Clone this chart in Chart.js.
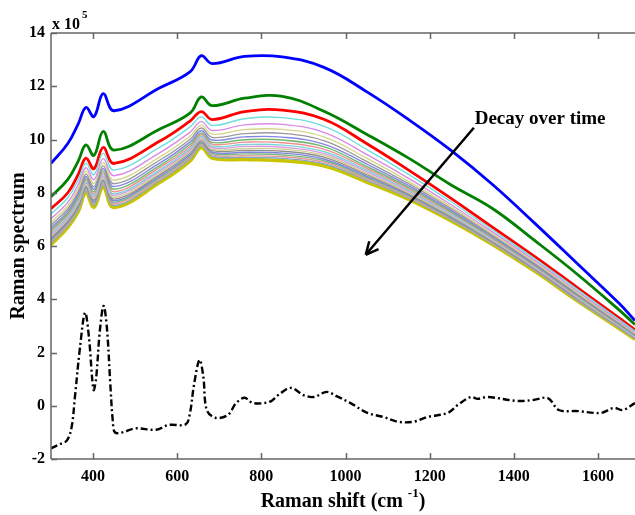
<!DOCTYPE html>
<html>
<head>
<meta charset="utf-8">
<script src="https://cdn.jsdelivr.net/npm/chart.js@4.4.1/dist/chart.umd.min.js"></script>
<style>
html, body { margin: 0; padding: 0; background: #fff; }
#wrap { width: 635px; height: 515px; }
</style>
</head>
<body>
<div id="wrap"><canvas id="ramanChart" width="635" height="515"></canvas></div>
<script>
// Raman shift grid (cm-1) shared by the decaying spectra
var shifts = [300, 340, 365, 383, 402, 424, 450, 560, 631, 657, 683, 760, 850, 950, 1050, 1150, 1250, 1350, 1450, 1550, 1650, 1688];

// spectra, in units of 1e5
var blueSpectrum   = [9.1, 9.85, 10.6, 11.2, 10.86, 11.72, 11.08, 11.95, 12.55, 13.15, 12.85, 13.12, 13.1, 12.7, 11.8, 10.75, 9.6, 8.3, 6.85, 5.35, 3.85, 3.2];
var greenSpectrum  = [7.85, 8.5, 9.2, 9.8, 9.4, 10.3, 9.6, 10.4, 11.0, 11.6, 11.27, 11.55, 11.62, 11.05, 10.2, 9.3, 8.3, 7.4, 6.2, 4.95, 3.6, 3.05];
var redSpectrum    = [7.4, 8.0, 8.7, 9.3, 8.9, 9.7, 9.1, 9.95, 10.7, 11.05, 10.75, 11.05, 11.1, 10.75, 9.85, 8.85, 7.8, 6.7, 5.6, 4.45, 3.3, 2.85];
var yellowSpectrum = [6.05, 6.7, 7.3, 8.0, 7.45, 8.2, 7.45, 8.4, 9.2, 9.7, 9.3, 9.25, 9.2, 9.0, 8.4, 7.75, 6.95, 6.05, 5.05, 3.95, 2.9, 2.5];

// thin spectra between the red and the yellow one
var midSpectra = [
  [7.2, 7.81, 8.49, 9.11, 8.68, 9.48, 8.85, 9.72, 10.48, 10.85, 10.53, 10.78, 10.82, 10.49, 9.63, 8.69, 7.67, 6.6, 5.52, 4.38, 3.24, 2.8],
  [7.02, 7.64, 8.31, 8.94, 8.49, 9.28, 8.64, 9.52, 10.28, 10.67, 10.34, 10.55, 10.57, 10.26, 9.44, 8.54, 7.56, 6.52, 5.45, 4.31, 3.19, 2.75],
  [6.89, 7.51, 8.17, 8.81, 8.35, 9.13, 8.47, 9.36, 10.13, 10.54, 10.2, 10.37, 10.38, 10.09, 9.3, 8.43, 7.48, 6.45, 5.39, 4.26, 3.15, 2.72],
  [6.78, 7.4, 8.06, 8.7, 8.23, 9.01, 8.34, 9.24, 10.01, 10.43, 10.08, 10.22, 10.23, 9.95, 9.18, 8.34, 7.41, 6.4, 5.35, 4.22, 3.12, 2.69],
  [6.68, 7.31, 7.96, 8.61, 8.13, 8.91, 8.23, 9.13, 9.91, 10.33, 9.98, 10.1, 10.09, 9.82, 9.08, 8.27, 7.35, 6.36, 5.31, 4.19, 3.09, 2.66],
  [6.6, 7.23, 7.87, 8.53, 8.04, 8.82, 8.13, 9.04, 9.82, 10.25, 9.89, 9.99, 9.98, 9.72, 8.99, 8.2, 7.3, 6.32, 5.28, 4.16, 3.06, 2.64],
  [6.54, 7.17, 7.8, 8.47, 7.97, 8.74, 8.04, 8.96, 9.74, 10.19, 9.82, 9.9, 9.88, 9.63, 8.92, 8.15, 7.26, 6.28, 5.25, 4.13, 3.04, 2.63],
  [6.47, 7.1, 7.73, 8.4, 7.9, 8.67, 7.96, 8.88, 9.67, 10.12, 9.75, 9.81, 9.79, 9.54, 8.85, 8.09, 7.21, 6.25, 5.22, 4.11, 3.02, 2.61],
  [6.41, 7.05, 7.68, 8.35, 7.84, 8.61, 7.9, 8.82, 9.61, 10.06, 9.69, 9.74, 9.71, 9.47, 8.79, 8.05, 7.18, 6.23, 5.2, 4.09, 3.01, 2.59],
  [6.36, 7.0, 7.62, 8.3, 7.78, 8.55, 7.83, 8.76, 9.55, 10.01, 9.63, 9.66, 9.64, 9.4, 8.73, 8.0, 7.15, 6.2, 5.18, 4.07, 2.99, 2.58],
  [6.31, 6.95, 7.57, 8.25, 7.73, 8.49, 7.76, 8.69, 9.49, 9.96, 9.58, 9.59, 9.56, 9.33, 8.68, 7.96, 7.11, 6.17, 5.15, 4.05, 2.98, 2.57],
  [6.25, 6.9, 7.51, 8.2, 7.67, 8.43, 7.7, 8.63, 9.43, 9.9, 9.52, 9.52, 9.49, 9.26, 8.62, 7.92, 7.08, 6.15, 5.13, 4.03, 2.96, 2.55],
  [6.21, 6.85, 7.46, 8.15, 7.62, 8.37, 7.64, 8.58, 9.37, 9.86, 9.47, 9.46, 9.42, 9.2, 8.57, 7.88, 7.05, 6.13, 5.11, 4.01, 2.95, 2.54],
  [6.16, 6.8, 7.41, 8.1, 7.57, 8.32, 7.58, 8.52, 9.32, 9.81, 9.42, 9.39, 9.35, 9.14, 8.52, 7.84, 7.02, 6.1, 5.09, 3.99, 2.93, 2.53],
  [6.11, 6.76, 7.36, 8.06, 7.52, 8.27, 7.52, 8.47, 9.27, 9.76, 9.37, 9.33, 9.29, 9.08, 8.47, 7.8, 6.99, 6.08, 5.08, 3.97, 2.92, 2.52]
];
var midColors = ['#6fdede', '#d98ae6', '#d6d68a', '#9a9a9a', '#8585e6', '#72b872', '#ef8f8f',
                 '#7ad6d6', '#dc9ae6', '#cfcf8f', '#8f8f8f', '#7f86dc', '#7fb87f', '#e69a9a', '#86a8c8'];

// difference spectrum (dash-dot, bottom)
var diffShifts = [300, 320, 338, 349, 357, 369, 381, 390, 401, 407, 416, 425, 433, 441, 447, 452, 470, 500, 550, 580, 620, 630, 640, 653, 662, 670, 690, 720, 740, 760, 780, 820, 840, 870, 900, 925, 955, 980, 1012, 1052, 1090, 1124, 1162, 1195, 1243, 1267, 1298, 1314, 1338, 1409, 1448, 1481, 1507, 1552, 1607, 1638, 1659, 1688];
var diffSpectrum = [-1.6, -1.45, -1.3, -0.8, 0.35, 2.2, 3.5, 2.6, 0.6, 1.0, 2.8, 3.75, 2.9, 0.8, -0.6, -1.0, -1.0, -0.85, -0.9, -0.72, -0.7, -0.3, 0.8, 1.72, 1.1, -0.15, -0.45, -0.35, 0.1, 0.3, 0.1, 0.15, 0.4, 0.67, 0.4, 0.33, 0.52, 0.35, 0.1, -0.27, -0.42, -0.6, -0.6, -0.42, -0.27, 0.03, 0.33, 0.26, 0.33, 0.18, 0.22, 0.29, -0.16, -0.2, -0.27, -0.08, -0.16, 0.1];

var xTicks = [400, 600, 800, 1000, 1200, 1400, 1600];
var yTicks = [-2, 0, 2, 4, 6, 8, 10, 12, 14];

// annotation arrow (data units)
var arrowFrom = [1305, 10.44];
var arrowTo = [1048, 5.67];
var arrowLabel = 'Decay over time';
var arrowLabelAt = [1307, 10.78];

var SERIF = '"Liberation Serif", "Times New Roman", serif';

function toPoints(xs, ys) {
    return xs.map(function(x, i) { return { x: x, y: ys[i] }; });
}

function lineSet(ys, color, width) {
    return {
        data: toPoints(shifts, ys),
        borderColor: color,
        borderWidth: width,
        pointRadius: 0,
        fill: false,
        tension: 0.4
    };
}

var datasets = [];
midSpectra.forEach(function(ys, i) {
    datasets.push(lineSet(ys, midColors[i % midColors.length], 1.4));
});
datasets.push(lineSet(yellowSpectrum, '#c8c400', 3.5));
datasets.push(lineSet(redSpectrum, '#ff0000', 2.8));
datasets.push(lineSet(greenSpectrum, '#007f00', 2.8));
datasets.push(lineSet(blueSpectrum, '#0000ff', 2.8));
datasets.push({
    data: toPoints(diffShifts, diffSpectrum),
    borderColor: '#000',
    borderWidth: 2.4,
    borderDash: [7, 3, 2, 3],
    pointRadius: 0,
    fill: false,
    tension: 0.35
});

// frame, inward ticks, titles and the arrow
var decor = {
    id: 'decor',
    afterDraw: function(chart) {
        var ctx = chart.ctx;
        var a = chart.chartArea;
        var xs = chart.scales.x, ys = chart.scales.y;
        ctx.save();
        ctx.strokeStyle = '#666';
        ctx.lineWidth = 1.5;
        ctx.beginPath();
        ctx.moveTo(a.left, a.top); ctx.lineTo(a.right, a.top);
        ctx.moveTo(a.left, a.top); ctx.lineTo(a.left, a.bottom);
        ctx.moveTo(a.left, a.bottom); ctx.lineTo(a.right, a.bottom);
        xTicks.forEach(function(v) {
            var px = Math.round(xs.getPixelForValue(v)) + 0.5;
            ctx.moveTo(px, a.bottom); ctx.lineTo(px, a.bottom - 6);
            ctx.moveTo(px, a.top); ctx.lineTo(px, a.top + 6);
        });
        yTicks.forEach(function(v) {
            var py = Math.round(ys.getPixelForValue(v)) + 0.5;
            ctx.moveTo(a.left, py); ctx.lineTo(a.left + 6, py);
        });
        ctx.stroke();

        ctx.fillStyle = '#000';
        // exponent label
        ctx.font = 'bold 16px ' + SERIF;
        ctx.textBaseline = 'alphabetic';
        ctx.textAlign = 'left';
        ctx.fillText('x 10', a.left + 1, a.top - 4);
        var w = ctx.measureText('x 10').width;
        ctx.font = 'bold 11px ' + SERIF;
        ctx.fillText('5', a.left + 3 + w, a.top - 15);

        // x title with superscript
        ctx.font = 'bold 20px ' + SERIF;
        var t1 = 'Raman shift (cm ';
        var w1 = ctx.measureText(t1).width;
        ctx.font = 'bold 13px ' + SERIF;
        var w2 = ctx.measureText('-1').width;
        ctx.font = 'bold 20px ' + SERIF;
        var w3 = ctx.measureText(')').width;
        var cx = (a.left + a.right) / 2;
        var sx = cx - (w1 + w2 + w3) / 2;
        var base = 507;
        ctx.fillText(t1, sx, base);
        ctx.fillText(')', sx + w1 + w2, base);
        ctx.font = 'bold 13px ' + SERIF;
        ctx.fillText('-1', sx + w1, base - 10);

        // y title
        ctx.save();
        ctx.translate(24, (a.top + a.bottom) / 2);
        ctx.rotate(-Math.PI / 2);
        ctx.font = 'bold 20px ' + SERIF;
        ctx.textAlign = 'center';
        ctx.fillText('Raman spectrum', 0, 0);
        ctx.restore();

        // arrow
        var x0 = xs.getPixelForValue(arrowFrom[0]), y0 = ys.getPixelForValue(arrowFrom[1]);
        var x1 = xs.getPixelForValue(arrowTo[0]), y1 = ys.getPixelForValue(arrowTo[1]);
        ctx.strokeStyle = '#000';
        ctx.lineWidth = 2.5;
        ctx.beginPath();
        ctx.moveTo(x0, y0); ctx.lineTo(x1, y1);
        var ang = Math.atan2(y1 - y0, x1 - x0);
        var hl = 14, spread = 0.45;
        ctx.moveTo(x1, y1);
        ctx.lineTo(x1 - hl * Math.cos(ang - spread), y1 - hl * Math.sin(ang - spread));
        ctx.moveTo(x1, y1);
        ctx.lineTo(x1 - hl * Math.cos(ang + spread), y1 - hl * Math.sin(ang + spread));
        ctx.stroke();

        ctx.font = 'bold 19px ' + SERIF;
        ctx.textAlign = 'left';
        ctx.textBaseline = 'middle';
        ctx.fillText(arrowLabel, xs.getPixelForValue(arrowLabelAt[0]), ys.getPixelForValue(arrowLabelAt[1]));
        ctx.restore();
    }
};

var tickFont = { family: SERIF, weight: 'bold', size: 16 };
function plainLabel(v) { return String(v); }

new Chart(document.getElementById('ramanChart').getContext('2d'), {
    type: 'line',
    data: { datasets: datasets },
    options: {
        responsive: false,
        animation: false,
        layout: { padding: { top: 33, right: 0, left: 0, bottom: 0 } },
        plugins: { legend: { display: false }, tooltip: { enabled: false } },
        scales: {
            x: {
                type: 'linear',
                min: 300,
                max: 1688,
                grid: { display: false, drawTicks: false },
                border: { display: false },
                ticks: { font: tickFont, color: '#000', padding: 8, maxRotation: 0, callback: plainLabel },
                afterBuildTicks: function(s) { s.ticks = xTicks.map(function(v) { return { value: v }; }); },
                afterFit: function(s) { s.height = 56; }
            },
            y: {
                min: -2,
                max: 14,
                grid: { display: false, drawTicks: false },
                border: { display: false },
                ticks: { font: tickFont, color: '#000', padding: 6, callback: plainLabel },
                afterBuildTicks: function(s) { s.ticks = yTicks.map(function(v) { return { value: v }; }); },
                afterFit: function(s) { s.height = s.height; s.width = 51; }
            }
        }
    },
    plugins: [decor]
});
</script>
</body>
</html>
